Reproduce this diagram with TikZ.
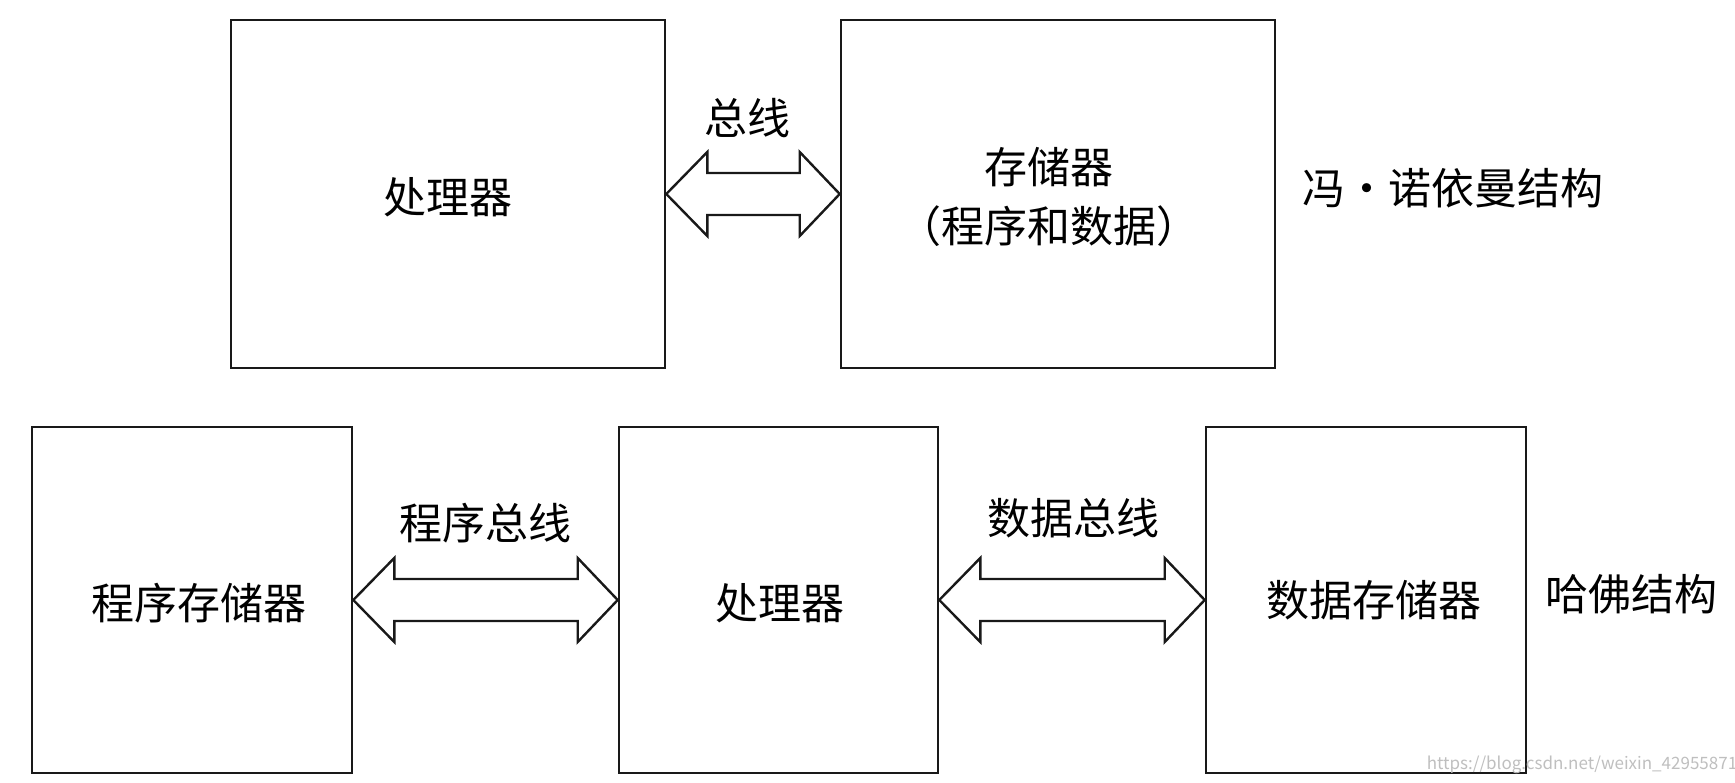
\documentclass[tikz,border=0pt]{standalone}
\usepackage{fontspec}
\setmainfont{Noto Sans CJK SC}
\usetikzlibrary{calc}
\tikzset{
  box/.style={draw=black!90, line width=2.6pt, fill=white, inner sep=0pt},
  bus/.style={draw=black!90, line width=2.4pt, line join=miter, fill=white},
  lbl/.style={font=\fontsize{43}{59}\selectfont, align=center, inner sep=0pt},
}
\newcommand{\busarrow}[2]{% #1 left tip node anchor, #2 right tip node anchor
  \draw[bus] (#1) -- ($(#1)+(41,-42)$) -- ($(#1)+(41,-21)$) -- ($(#2)+(-40,-21)$) -- ($(#2)+(-40,-42)$) -- (#2)
     -- ($(#2)+(-40,42)$) -- ($(#2)+(-40,21)$) -- ($(#1)+(41,21)$) -- ($(#1)+(41,42)$) -- cycle;}
\begin{document}
\begin{tikzpicture}[x=1pt,y=-1pt]
\useasboundingbox (0,0) rectangle (1735,783);
\fill[white] (0,0) rectangle (1735,783);
% top: von Neumann
\node[box, minimum width=434pt, minimum height=348pt] (cpu1) at (448,194) {};
\node[lbl] (cpu1t) at (448,197) {处理器};
\node[box, minimum width=434pt, minimum height=348pt] (mem) at (1058,194) {};
\node[lbl] (memt) at (1049,197) {存储器\\（程序和数据）};
\node[lbl] (vn) at (1453,188) {冯·诺依曼结构};
\coordinate (a1l) at (cpu1.east);
\coordinate (a1r) at (mem.west);
\busarrow{a1l}{a1r}
\node[lbl] (bus1) at (747,118) {总线};
% bottom: Harvard
\node[box, minimum width=320pt, minimum height=346pt] (pmem) at (192,600) {};
\node[lbl] (pmemt) at (199,603) {程序存储器};
\node[box, minimum width=319pt, minimum height=346pt] (cpu2) at (778.5,600) {};
\node[lbl] (cpu2t) at (780,603) {处理器};
\node[box, minimum width=320pt, minimum height=346pt] (dmem) at (1366,600) {};
\node[lbl] (dmemt) at (1374,600) {数据存储器};
\node[lbl] (hv) at (1631,594) {哈佛结构};
\coordinate (b1l) at (pmem.east);
\coordinate (b1r) at (cpu2.west);
\busarrow{b1l}{b1r}
\node[lbl] (bus2) at (485,523) {程序总线};
\coordinate (b2l) at (cpu2.east);
\coordinate (b2r) at (dmem.west);
\busarrow{b2l}{b2r}
\node[lbl] (bus3) at (1073,518) {数据总线};
\node[font=\fontsize{17}{20}\selectfont, text=black!25, inner sep=0pt] (wm) at (1582,765) {https://blog.csdn.net/weixin\_42955871};
\end{tikzpicture}
\end{document}
